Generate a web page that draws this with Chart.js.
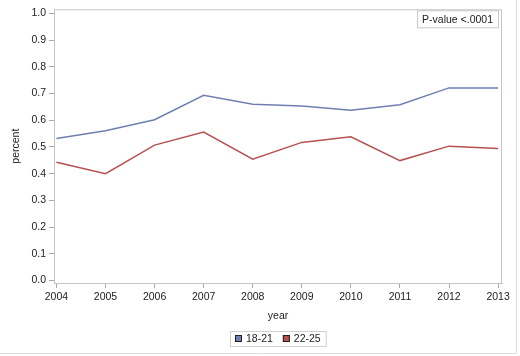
<!DOCTYPE html>
<html>
<head>
<meta charset="utf-8">
<script src="https://cdn.jsdelivr.net/npm/chart.js@4.4.0/dist/chart.umd.min.js"></script>
<style>
  html, body { margin: 0; padding: 0; background: #fff; }
  #wrap { width: 520px; height: 356px; position: relative; }
</style>
</head>
<body>
<div id="wrap"><canvas id="chart"></canvas></div>
<script>
const years = [2004, 2005, 2006, 2007, 2008, 2009, 2010, 2011, 2012, 2013];
const age18to21 = [0.532, 0.561, 0.602, 0.693, 0.660, 0.653, 0.637, 0.658, 0.721, 0.721];
const age22to25 = [0.443, 0.400, 0.507, 0.556, 0.454, 0.517, 0.538, 0.449, 0.503, 0.494];
const yTicks = [0, 0.1, 0.2, 0.3, 0.4, 0.5, 0.6, 0.7, 0.8, 0.9, 1.0];
const seriesNames = ['18-21', '22-25'];
const pValueText = 'P-value <.0001';

const FONT = 'Liberation Sans, Arial, sans-serif';
const TEXT = '#222';
const blue = '#6f7eb3';
const red = '#b5524f';

// frame, p-value box, legend and outer border
const extras = {
    id: 'extras',
    afterDraw(chart) {
        const ctx = chart.ctx;
        const a = chart.chartArea;
        ctx.save();

        // top and right of plot frame
        ctx.strokeStyle = '#c4c4c4';
        ctx.lineWidth = 1;
        ctx.beginPath();
        ctx.moveTo(a.left, a.top + 0.5);
        ctx.lineTo(a.right - 0.5, a.top + 0.5);
        ctx.lineTo(a.right - 0.5, a.bottom);
        ctx.stroke();

        // p-value box
        ctx.font = '10.5px ' + FONT;
        const tw = ctx.measureText(pValueText).width;
        const bw = tw + 10, bh = 17;
        const bx = a.right - 4 - bw, by = a.top + 1;
        ctx.strokeStyle = '#c8c8c8';
        ctx.strokeRect(bx + 0.5, by + 0.5, bw, bh);
        ctx.fillStyle = TEXT;
        ctx.textBaseline = 'middle';
        ctx.textAlign = 'left';
        ctx.fillText(pValueText, bx + 5, by + bh / 2 + 1);

        // legend
        const items = chart.data.datasets.map(d => ({ label: d.label, color: d.borderColor }));
        const sq = 7, gapSq = 4, gapItem = 10;
        let total = 0;
        const widths = items.map(it => ctx.measureText(it.label).width);
        items.forEach((it, i) => { total += sq + gapSq + widths[i]; if (i) total += gapItem; });
        const lw = total + 10, lh = 15;
        const lx = Math.round((a.left + a.right) / 2 - lw / 2), ly = 331;
        ctx.strokeStyle = '#d0d0d0';
        ctx.strokeRect(lx + 0.5, ly + 0.5, lw, lh);
        let x = lx + 5;
        items.forEach((it, i) => {
            ctx.fillStyle = it.color;
            ctx.fillRect(x, ly + 4, sq, sq);
            ctx.strokeStyle = '#202020';
            ctx.strokeRect(x + 0.5, ly + 4.5, sq - 1, sq - 1);
            x += sq + gapSq;
            ctx.fillStyle = TEXT;
            ctx.fillText(it.label, x, ly + lh / 2 + 1);
            x += widths[i] + gapItem;
        });

        // outer image border
        ctx.strokeStyle = '#dcdcdc';
        ctx.beginPath();
        ctx.moveTo(0, 353.5);
        ctx.lineTo(516.5, 353.5);
        ctx.lineTo(516.5, 0);
        ctx.stroke();
        ctx.restore();
    }
};

new Chart(document.getElementById('chart'), {
    type: 'line',
    data: {
        datasets: [
            {
                label: seriesNames[0],
                data: years.map((y, i) => ({ x: y, y: age18to21[i] })),
                borderColor: blue,
                backgroundColor: blue,
                borderWidth: 1.5,
                pointRadius: 0,
                tension: 0
            },
            {
                label: seriesNames[1],
                data: years.map((y, i) => ({ x: y, y: age22to25[i] })),
                borderColor: red,
                backgroundColor: red,
                borderWidth: 1.5,
                pointRadius: 0,
                tension: 0
            }
        ]
    },
    options: {
        responsive: true,
        maintainAspectRatio: false,
        animation: false,
        layout: { padding: { top: 8, right: 18, bottom: 34, left: 0 } },
        plugins: {
            legend: { display: false },
            tooltip: { enabled: false }
        },
        scales: {
            x: {
                type: 'linear',
                min: 2003.95,
                max: 2013.08,
                afterBuildTicks: s => { s.ticks = years.map(v => ({ value: v })); },
                afterFit: s => { s.height = 39; },
                ticks: {
                    color: TEXT,
                    font: { family: FONT, size: 10.5 },
                    padding: 3,
                    maxRotation: 0,
                    callback: v => String(v)
                },
                grid: { drawOnChartArea: false, tickLength: 5, color: '#a8a8a8' },
                border: { color: '#c4c4c4' },
                title: {
                    display: true,
                    text: 'year',
                    color: TEXT,
                    font: { family: FONT, size: 10.5 },
                    padding: 0
                }
            },
            y: {
                min: -0.009,
                max: 1.015,
                afterBuildTicks: s => { s.ticks = yTicks.map(v => ({ value: v })); },
                afterFit: s => { s.width = 54; },
                ticks: {
                    color: TEXT,
                    font: { family: FONT, size: 10.5 },
                    padding: 3,
                    callback: v => v.toFixed(1)
                },
                grid: { drawOnChartArea: false, tickLength: 5, color: '#a8a8a8' },
                border: { color: '#c4c4c4' },
                title: {
                    display: true,
                    text: 'percent',
                    color: TEXT,
                    font: { family: FONT, size: 10.5 },
                    padding: { top: 10, bottom: 4 }
                }
            }
        }
    },
    plugins: [extras]
});
</script>
</body>
</html>
